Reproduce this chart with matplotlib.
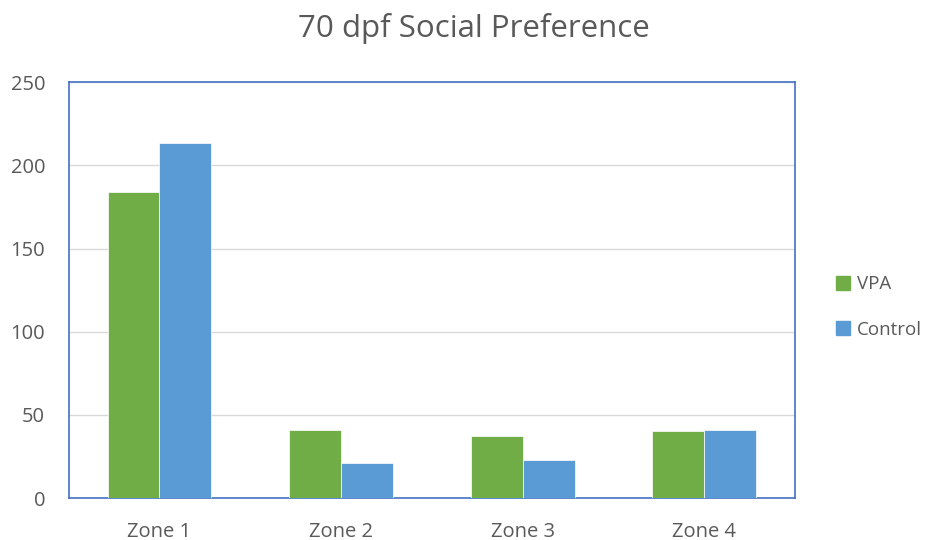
import matplotlib
matplotlib.use("Agg")
import matplotlib.pyplot as plt
import numpy as np
from matplotlib.patches import Patch

categories = ["Zone 1", "Zone 2", "Zone 3", "Zone 4"]
vpa = [184.2, 40.7, 37.3, 40.1]
control = [213.3, 21.2, 22.8, 41.1]
series_names = ["VPA", "Control"]
yticks = [0, 50, 100, 150, 200, 250]

plt.rcParams['font.family'] = ['Open Sans', 'DejaVu Sans']
txt = '#595959'
green = '#70AD47'
blue = '#5B9BD5'

fig = plt.figure(figsize=(9.28, 5.4), dpi=100)
ax = fig.add_axes([68.7/928, 42/540, (795-68.7)/928, (498-82.3)/540])

x = np.arange(len(categories))
w = 0.286
ax.bar(x - w/2, vpa, w, color=green, edgecolor='white', linewidth=0.5, zorder=3)
ax.bar(x + w/2, control, w, color=blue, edgecolor='white', linewidth=0.5, zorder=3)

ax.set_xlim(-0.5, 3.5)
ax.set_ylim(0, 250)
ax.set_yticks(yticks)
ax.set_xticks(x)
ax.set_xticklabels(categories)
ax.tick_params(axis='both', length=0, labelsize=14.5, colors=txt)
ax.tick_params(axis='y', pad=17)
ax.tick_params(axis='x', pad=17)
for lab in ax.get_yticklabels():
    lab.set_horizontalalignment('right')
ax.grid(axis='y', color='#D9D9D9', linewidth=1, zorder=0)
for s in ax.spines.values():
    s.set_color('#4472C4')
    s.set_linewidth(1.2)

fig.text(0.5 + 10/928, 1 - 29/540, "70 dpf Social Preference", ha='center', va='center', fontsize=22.5, color=txt)

handles = [Patch(color=green), Patch(color=blue)]
leg = fig.legend(handles, series_names, loc='center left', bbox_to_anchor=(836/928, 1 - 307/540),
                 frameon=False, fontsize=13.5, labelcolor=txt, handlelength=0.75, handleheight=0.75,
                 handletextpad=0.35, labelspacing=1.45, borderpad=0, borderaxespad=0)

fig.savefig("out.png", dpi=100)
